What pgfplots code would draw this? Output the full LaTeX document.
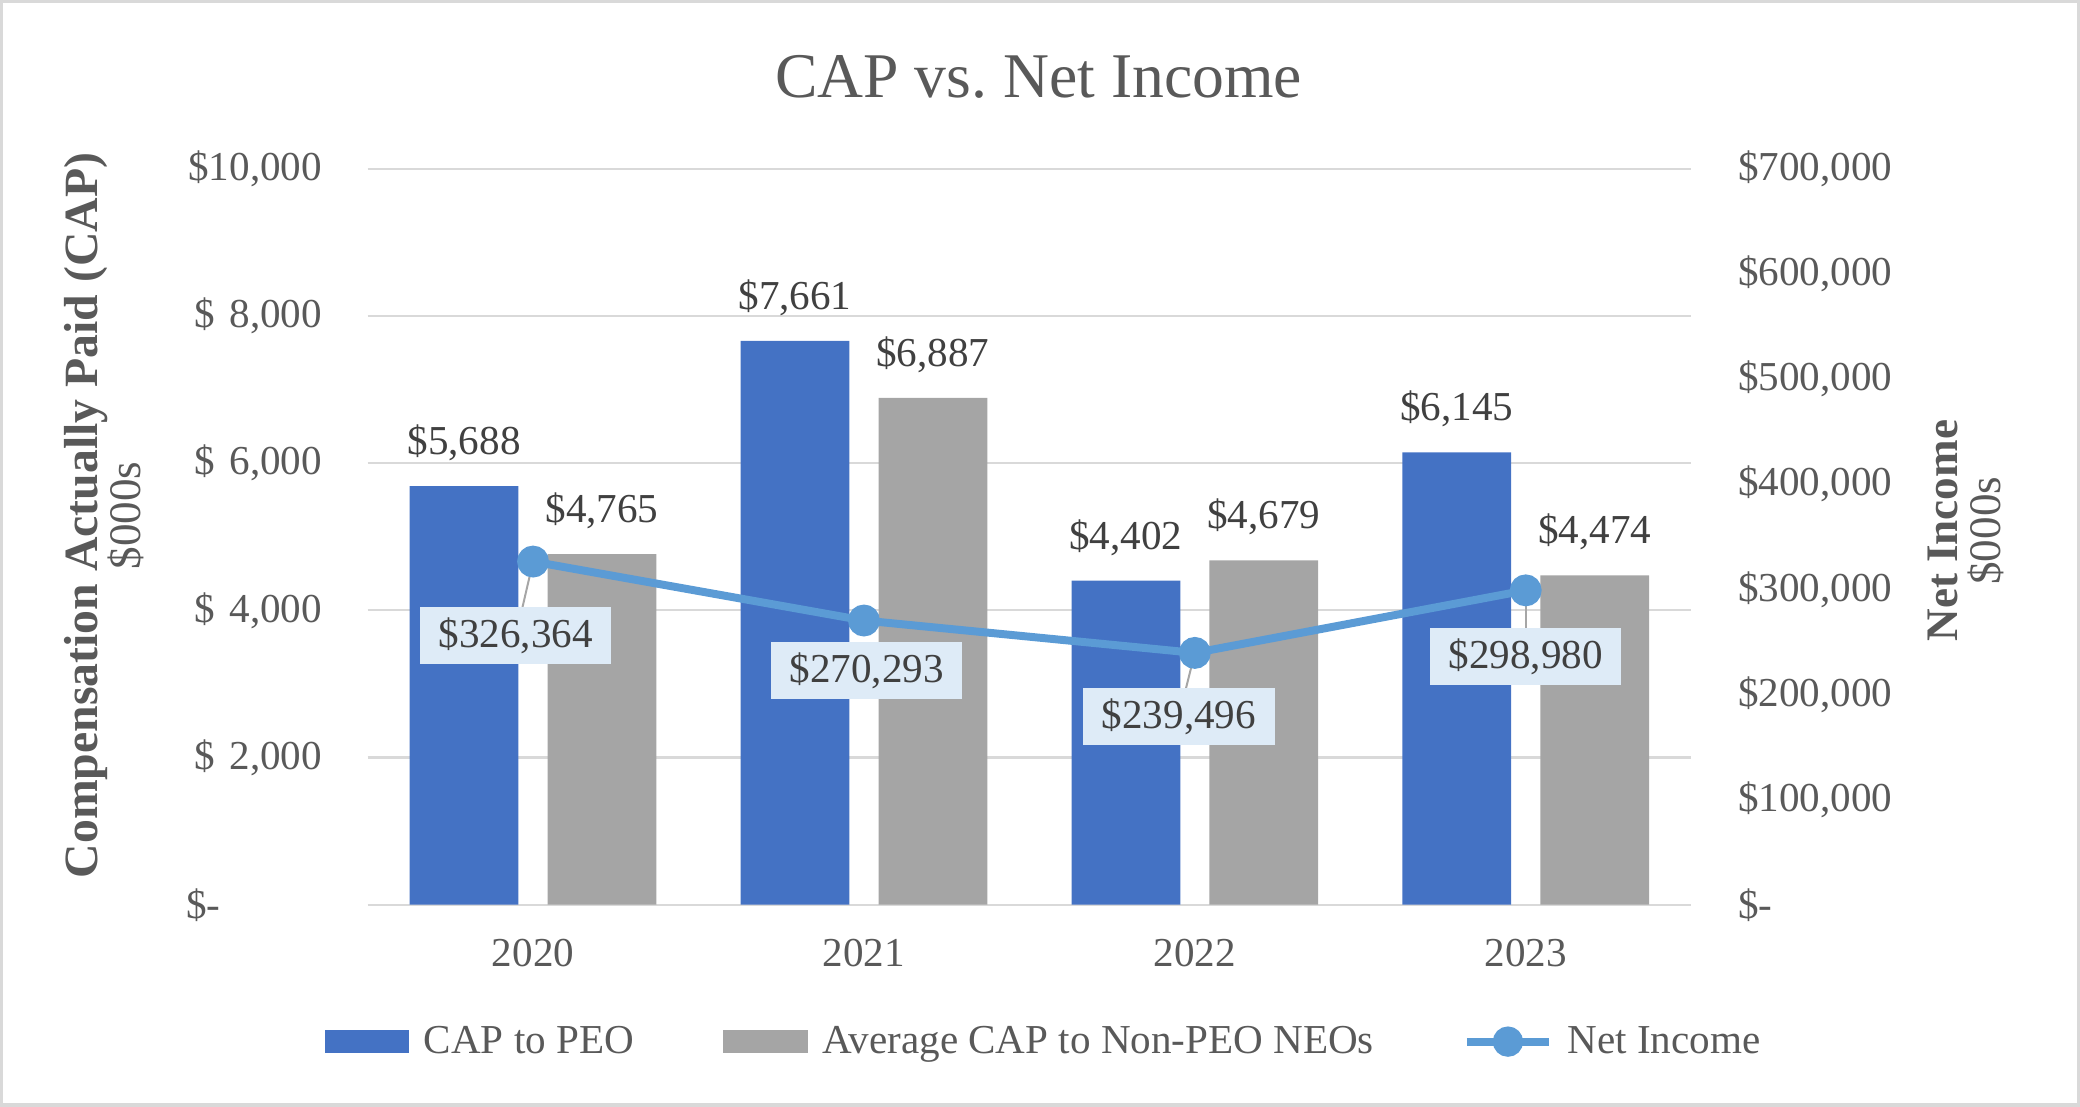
\documentclass[border=0pt]{standalone}
\usepackage{fontspec}
\setmainfont{Liberation Serif}
\usepackage{pgfplots}
\usepackage{pgfplotstable}
\pgfplotsset{compat=1.18}

\definecolor{peoblue}{HTML}{4472C4}
\definecolor{neogray}{HTML}{A5A5A5}
\definecolor{niblue}{HTML}{5B9BD5}
\definecolor{gridgray}{HTML}{D9D9D9}
\definecolor{txtgray}{HTML}{595959}
\definecolor{lblgray}{HTML}{404040}
\definecolor{boxblue}{HTML}{DEEBF7}
\definecolor{leadgray}{HTML}{A6A6A6}

\pgfplotsset{/pgf/number format/assume math mode=true,
  /pgf/number format/1000 sep={,}}

\newcommand\lbl{\fontsize{15.5}{18.6}\selectfont}
% accounting style: $ on the left, number on the right
\newcommand\accl[1]{\makebox[3.1em]{\$\hfill#1}}
\newcommand\accr[1]{\makebox[3.75em]{\$\hfill#1}}

% CAP, $000s
\pgfplotstableread{
x peo neo
0 5688 4765
1 7661 6887
2 4402 4679
3 6145 4474
}\captable

% net income, $000s; dx dy = label offset in pt
\pgfplotstableread{
x ni dx dy
0 326364 -6.5 -28
1 270293 1 -19
2 239496 -6 -24
3 298980 0 -25
}\nitable

% leader lines to the labels (data units)
\pgfplotstableread{
x ni u v
0 326364 -0.052 -70631
2 239496 -0.048 -60541
3 298980 0 -63063
}\leadtable

\begin{document}
\begin{tikzpicture}
\begin{axis}[
    at={(0,0)}, anchor=south west, scale only axis,
    width=499pt, height=277.5pt,
    xmin=-0.5, xmax=3.5, ymin=0, ymax=10000,
    ybar=11pt, bar width=41pt,
    axis line style={draw=none}, major tick length=0pt,
    xtick={0,1,2,3}, xticklabels={2020,2021,2022,2023},
    ytick={0,2000,...,10000},
    yticklabels={{\makebox[3.3em][l]{\$-}},{\accl{2,000}},{\accl{4,000}},{\accl{6,000}},{\accl{8,000}},{\$10,000}},
    scaled y ticks=false,
    ymajorgrids, major grid style={gridgray, line width=0.8pt},
    tick label style={font=\lbl, text=txtgray, inner sep=0pt},
    xticklabel shift=12.75pt, yticklabel shift=17pt,
    nodes near coords={\$\pgfmathprintnumber[fixed,precision=0]{\pgfplotspointmeta}},
    every node near coord/.append style={font=\lbl, text=lblgray, yshift=6pt},
    clip=false,
]
\addplot[fill=peoblue, draw=none] table[x=x, y=peo] {\captable};
\addplot[fill=neogray, draw=none] table[x=x, y=neo] {\captable};
\end{axis}

\begin{axis}[
    at={(0,0)}, anchor=south west, scale only axis,
    width=499pt, height=277.5pt,
    xmin=-0.5, xmax=3.5, ymin=0, ymax=700000,
    axis y line*=right, axis x line=none, xtick=\empty,
    axis line style={draw=none}, major tick length=0pt,
    ytick={0,100000,...,700000},
    yticklabels={{\makebox[3.75em][l]{\$-}},{\accr{100,000}},{\accr{200,000}},{\accr{300,000}},{\accr{400,000}},{\accr{500,000}},{\accr{600,000}},{\accr{700,000}}},
    scaled y ticks=false,
    tick label style={font=\lbl, text=txtgray, inner sep=0pt},
    yticklabel shift=17.5pt,
    clip=false,
    legend columns=3,
    legend style={at={(axis description cs:0.512,-0.186)}, anchor=center,
      draw=none, fill=none, font=\lbl, text=txtgray,
      /tikz/every odd column/.append style={column sep=3.5pt},
      /tikz/every even column/.append style={column sep=31.5pt}},
]
\addlegendimage{legend image code/.code={\fill[peoblue] (0pt,-4.25pt) rectangle (31.5pt,4.25pt);}}
\addlegendentry{CAP to PEO}
\addlegendimage{legend image code/.code={\fill[neogray] (0pt,-4.25pt) rectangle (31.5pt,4.25pt);}}
\addlegendentry{Average CAP to Non-PEO NEOs}

\addplot[forget plot, no markers, draw=leadgray, line width=0.75pt,
    quiver={u=\thisrow{u}, v=\thisrow{v}}] table[x=x, y=ni] {\leadtable};

\addplot[niblue, line width=3pt, mark=*, mark size=4.5pt,
    mark options={draw=none, fill=niblue},
    legend image code/.code={\draw[niblue, line width=3pt] (0pt,0pt) -- (31pt,0pt);
      \fill[niblue] (15.5pt,0pt) circle (4.2pt);},
    point meta=\thisrow{ni},
    visualization depends on={\thisrow{dx} \as \ldx},
    visualization depends on={\thisrow{dy} \as \ldy},
    nodes near coords={\$\pgfmathprintnumber[fixed,precision=0]{\pgfplotspointmeta}},
    every node near coord/.append style={anchor=center, fill=boxblue,
      text=lblgray, font=\lbl, inner xsep=7pt, minimum height=21.5pt,
      xshift=\ldx pt, yshift=\ldy pt},
] table[x=x, y=ni] {\nitable};
\addlegendentry{Net Income}
\end{axis}

\node[font=\fontsize{24}{28}\selectfont, text=txtgray] at (253pt,312pt) {CAP vs.\ Net Income};
\node[rotate=90, font=\bfseries\fontsize{18}{21}\selectfont, text=txtgray] at (-106pt,146.75pt)
  {Compensation Actually Paid (CAP)};
\node[rotate=90, font=\fontsize{17}{20}\selectfont, text=txtgray] at (-91pt,146.75pt) {\$000s};
\node[rotate=90, font=\bfseries\fontsize{17}{20}\selectfont, text=txtgray] at (594pt,141pt) {Net Income};
\node[rotate=90, font=\fontsize{17}{20}\selectfont, text=txtgray] at (610pt,141pt) {\$000s};

\draw[gridgray, line width=1.2pt] (-138pt,-75.5pt) rectangle (645pt,340.5pt);
\end{tikzpicture}
\end{document}
